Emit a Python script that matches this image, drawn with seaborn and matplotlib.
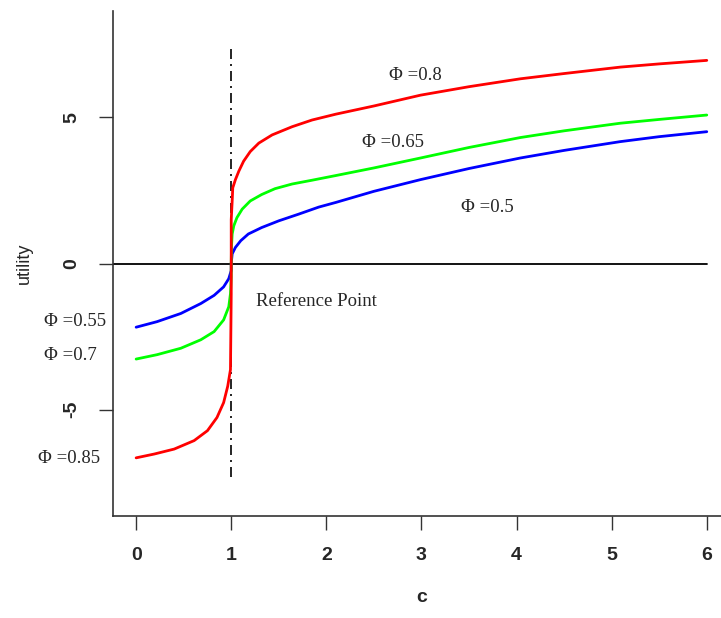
import matplotlib
matplotlib.use("Agg")
import matplotlib.pyplot as plt
import seaborn as sns
import pandas as pd

# ---- data ----
blue_c = [0.0, 0.22, 0.47, 0.68, 0.82, 0.92, 0.974, 1.0, 1.0, 1.01, 1.044, 1.10, 1.18, 1.32, 1.50, 1.71,
          1.92, 2.10, 2.5, 2.99, 3.5, 4.04, 4.5, 5.09, 5.5, 6.0]
blue_u = [-2.18, -1.99, -1.71, -1.37, -1.09, -0.80, -0.52, -0.24, 0.0, 0.33, 0.55, 0.78, 1.01, 1.23, 1.46, 1.69,
          1.93, 2.09, 2.47, 2.87, 3.25, 3.61, 3.87, 4.17, 4.34, 4.51]

green_c = [0.0, 0.22, 0.47, 0.68, 0.82, 0.92, 0.974, 0.992, 1.0, 1.0, 1.003, 1.01, 1.027, 1.06, 1.115, 1.20,
           1.32, 1.46, 1.64, 1.85, 2.10, 2.5, 2.99, 3.5, 4.04, 4.5, 5.09, 5.5, 6.0]
green_u = [-3.27, -3.12, -2.90, -2.61, -2.33, -1.93, -1.48, -1.03, -0.46, 0.0, 0.6, 1.01, 1.29, 1.57, 1.86, 2.14,
           2.36, 2.56, 2.72, 2.85, 3.01, 3.27, 3.61, 3.97, 4.31, 4.54, 4.80, 4.93, 5.08]

red_c = [0.0, 0.19, 0.40, 0.61, 0.75, 0.85, 0.92, 0.963, 0.992, 1.0, 1.0, 1.0, 1.01, 1.016, 1.044, 1.08,
         1.13, 1.20, 1.29, 1.43, 1.64, 1.85, 2.10, 2.5, 2.99, 3.5, 4.04, 4.5, 5.09, 5.5, 6.0]
red_u = [-6.65, -6.52, -6.35, -6.06, -5.72, -5.27, -4.76, -4.20, -3.63, -1.03, 0.0, 1.5, 2.14, 2.59, 2.87, 3.16,
         3.50, 3.83, 4.12, 4.40, 4.68, 4.91, 5.11, 5.39, 5.76, 6.05, 6.32, 6.50, 6.72, 6.83, 6.95]

curve_names = ["blue", "green", "red"]
curve_colors = ["#0000FF", "#00FF00", "#FF0000"]

labels_text = ["\u03A6 =0.8", "\u03A6 =0.65", "\u03A6 =0.5", "\u03A6 =0.55", "\u03A6 =0.7", "\u03A6 =0.85", "Reference Point"]
labels_x = [2.94, 2.70, 3.69, -0.64, -0.69, -0.71, 1.90]
labels_y = [6.45, 4.14, 1.90, -2.0, -3.16, -6.68, -1.29]

x_ticks = [0, 1, 2, 3, 4, 5, 6]
y_ticks = [-5, 0, 5]

frames = []
for name, cs, us in [("blue", blue_c, blue_u), ("green", green_c, green_u), ("red", red_c, red_u)]:
    frames.append(pd.DataFrame({"c": cs, "utility": us, "curve": name, "order": range(len(cs))}))
df = pd.concat(frames, ignore_index=True)

sns.set_theme(style="white")
plt.rcParams["font.family"] = ["Liberation Sans", "DejaVu Sans"]

fig = plt.figure(figsize=(7.21, 6.18), dpi=100)
ax = fig.add_axes([113.3 / 721, (618 - 516) / 618, (729.6 - 113.3) / 721, (516 - 11) / 618])

# reference lines
ax.plot([-0.24, 6.0], [0, 0], color="black", lw=1.3, zorder=1)
ax.plot([1, 1], [-7.3, 7.4], color="black", lw=1.2, linestyle=(0, (6, 3, 1.2, 3)), zorder=1)

for name, col in zip(curve_names, curve_colors):
    sub = df[df["curve"] == name].sort_values("order")
    sns.lineplot(data=sub, x="c", y="utility", sort=False, estimator=None,
                 color=col, lw=2.0, ax=ax, zorder=3)

for t, x, y in zip(labels_text, labels_x, labels_y):
    ax.text(x, y, t, ha="center", va="center", fontsize=13.5,
            family=["Liberation Serif", "DejaVu Serif"], clip_on=False)

ax.set_xlim(-0.24, 6.24)
ax.set_ylim(-8.64, 8.64)
ax.set_xticks(x_ticks)
ax.set_yticks(y_ticks)
ax.set_xticklabels([str(v) for v in x_ticks], fontsize=14, fontweight="bold")
ax.set_yticklabels([str(v) for v in y_ticks], fontsize=14, fontweight="bold", rotation=90, va="center")
ax.tick_params(axis="both", direction="out", length=10, width=1.0, color="#333333",
               bottom=True, left=True)
ax.tick_params(axis="x", pad=12)
ax.tick_params(axis="y", pad=14)

for s in ["top", "right"]:
    ax.spines[s].set_visible(False)
for s in ["left", "bottom"]:
    ax.spines[s].set_color("#333333")
    ax.spines[s].set_linewidth(1.2)

ax.set_xlabel("c", fontsize=14, fontweight="bold", labelpad=18)
ax.set_ylabel("utility", fontsize=13, labelpad=22)
ax.grid(False)

fig.savefig("out.png", dpi=100)
